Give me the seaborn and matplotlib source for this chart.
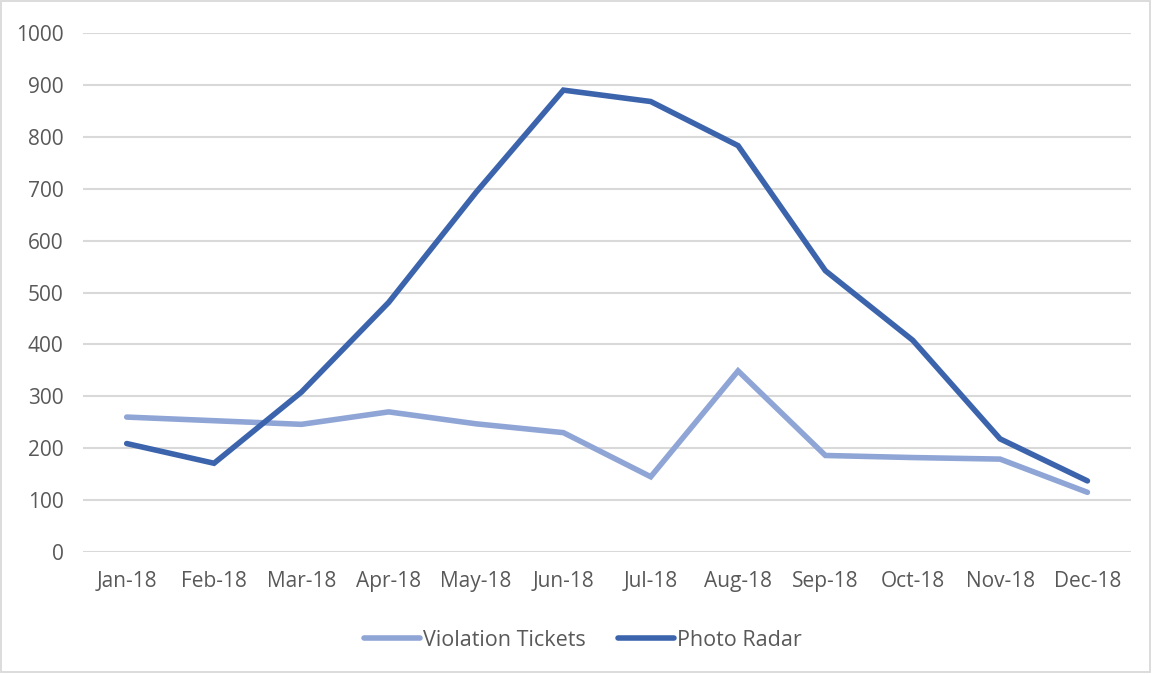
import pandas as pd
import matplotlib.pyplot as plt
import seaborn as sns
from matplotlib.patches import Rectangle

# datos
meses = ['Jan-18', 'Feb-18', 'Mar-18', 'Apr-18', 'May-18', 'Jun-18',
         'Jul-18', 'Aug-18', 'Sep-18', 'Oct-18', 'Nov-18', 'Dec-18']
violation_tickets = [260, 253, 246, 270, 247, 230, 145, 349, 186, 182, 179, 115]
photo_radar = [209, 171, 308, 481, 693, 890, 868, 783, 542, 408, 218, 137]
series = ['Violation Tickets', 'Photo Radar']
colores = ['#8FA5D6', '#3B64AD']

df = pd.DataFrame({
    'mes': meses * 2,
    'valor': violation_tickets + photo_radar,
    'serie': [series[0]] * len(meses) + [series[1]] * len(meses),
})

sns.set_style('white')
plt.rcParams['font.family'] = ['Open Sans', 'DejaVu Sans']

fig = plt.figure(figsize=(11.53, 6.74), dpi=100)
ax = fig.add_axes([0.072, 0.181, 0.909, 0.770])

sns.lineplot(data=df, x='mes', y='valor', hue='serie', hue_order=series,
             palette=colores, linewidth=4, sort=False, ax=ax,
             solid_capstyle='round', solid_joinstyle='miter')

ax.set_xlim(-0.5, len(meses) - 0.5)
ax.set_ylim(0, 1000)
ax.set_yticks(range(0, 1001, 100))
ax.set_xlabel('')
ax.set_ylabel('')
ax.grid(axis='y', color='#D9D9D9', linewidth=1.5)
ax.set_axisbelow(True)
for s in ax.spines.values():
    s.set_visible(False)
ax.tick_params(axis='both', length=0, labelsize=15, colors='#595959')
ax.tick_params(axis='y', pad=14)
ax.tick_params(axis='x', pad=14)

# leyenda abajo, un poco a la izquierda como en el original
leg = ax.legend(loc='upper center', bbox_to_anchor=(0.477, -0.112), ncol=2,
                frameon=False, fontsize=15.5, handlelength=2.6,
                handletextpad=0.15, columnspacing=1.5)
for t in leg.get_texts():
    t.set_color('#595959')
for l in leg.get_lines():
    l.set_linewidth(4)

# borde del grafico
fig.patches.append(Rectangle((0.001, 0.003), 0.996, 0.995, transform=fig.transFigure,
                             fill=False, edgecolor='#D9D9D9', linewidth=1.3))

plt.savefig('out.png', dpi=100)
